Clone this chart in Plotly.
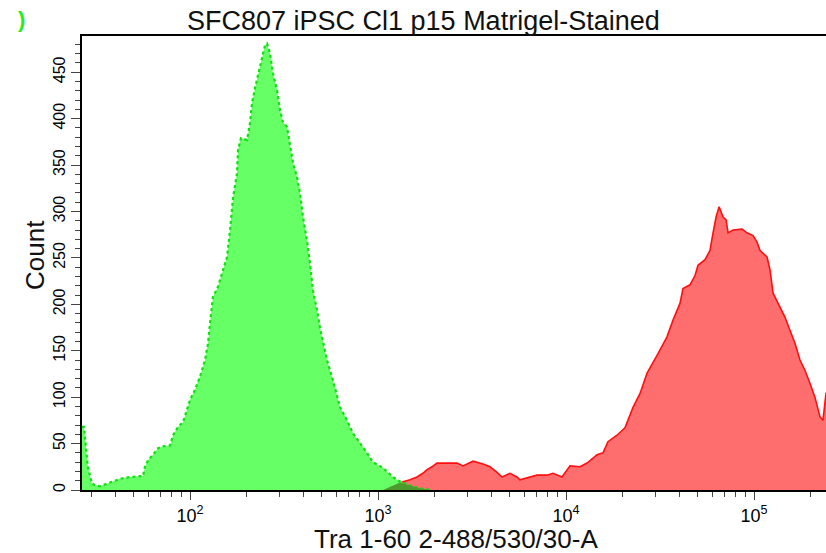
import plotly.graph_objects as go

# ---- data ----
green_x = [26.6, 27.3, 28.6, 30.1, 31.3, 33.2, 37.5, 42.4, 48.0, 54.2, 56.2, 57.6, 59.8, 63.6,
           67.6, 71.8, 78.3, 81.2, 86.4, 91.8, 95.2, 100, 106.3, 113.0, 120.2, 124.7, 127.8,
           132.5, 140.9, 157.4, 163.3, 169.4, 177.8, 180.0, 186.7, 201, 208.5, 213.8, 221.8,
           235.7, 250.6, 256.8, 266.6, 276.3, 290.2, 301.2, 312.5, 328.2, 340.6, 353.4, 370.9,
           384.8, 399.2, 418.9, 434.8, 451, 473.4, 491.3, 535.5, 576.6, 628.7, 684.7, 736.6,
           802.2, 873.6, 939.8, 1062, 1201, 1310, 1479, 1671, 1936]
green_y = [68, 68, 25, 7, 5, 4, 8, 12, 14, 15, 15, 25, 32, 38,
           45, 47, 48, 59, 68, 73, 84, 97, 108, 122, 140, 158, 180,
           208, 219, 251, 280, 315, 341, 366, 379, 377, 395, 417, 433,
           455, 479, 481, 470, 449, 431, 409, 396, 391, 373, 352, 337,
           320, 294, 269, 244, 215, 194, 175, 140, 118, 89, 75, 61,
           51, 40, 30, 24, 14, 9, 5, 2, 0]

red_x = [1025, 1117, 1231, 1358, 1479, 1611, 1734, 1823, 1936, 2059, 2328, 2632, 2833, 3202,
         3619, 3944, 4298, 4570, 5036, 5488, 5689, 6202, 7010, 7924, 8531, 9524, 10500,
         11870, 12940, 14630, 15740, 16720, 18670, 20590, 22720, 24770, 26990, 30860, 34450,
         37080, 40380, 41910, 45680, 48560, 50360, 54880, 58340, 60550, 62840, 65210, 68450,
         71040, 72800, 77340, 86320, 91810, 98840, 103800, 107700, 117300, 121700, 126300,
         137500, 146300, 155300, 165200, 175600, 186600, 198400, 210900, 224300, 232700,
         241500, 253500]
red_y = [0, 2, 5, 9, 11, 14, 18, 22, 25, 29, 29, 29, 26, 31,
         28, 25, 19, 14, 18, 14, 11, 13, 16, 16, 18, 14, 26,
         25, 29, 38, 40, 52, 59, 67, 89, 104, 126, 147, 165,
         183, 201, 217, 221, 231, 242, 248, 258, 277, 294, 305, 294,
         291, 277, 280, 281, 277, 274, 267, 258, 251, 237, 212,
         197, 186, 172, 158, 140, 129, 115, 100, 79, 75,
         104, 110]

overlap_x = [1062, 1117, 1231, 1310, 1479, 1671, 1936]
overlap_y = [0, 2, 5, 8, 5, 2, 0]

y_ticks = [0, 50, 100, 150, 200, 250, 300, 350, 400, 450]
x_ticks = [100, 1000, 10000, 100000]
x_ticklabels = ["10<sup>2</sup>", "10<sup>3</sup>", "10<sup>4</sup>", "10<sup>5</sup>"]

title_text = "SFC807 iPSC Cl1 p15 Matrigel-Stained"
x_title = "Tra 1-60 2-488/530/30-A"
y_title = "Count"

minor_x = [m * 10 ** e for e in range(1, 6) for m in range(2, 10)]
minor_y = list(range(0, 490, 10))

FONT = "Liberation Sans, Arial, sans-serif"

fig = go.Figure()
fig.add_trace(go.Scatter(x=red_x, y=red_y, mode="lines", fill="tozeroy",
                         line=dict(color="#ff1010", width=1.6),
                         fillcolor="#ff6e6e", hoverinfo="skip"))
fig.add_trace(go.Scatter(x=green_x, y=green_y, mode="lines", fill="tozeroy",
                         line=dict(color="#10e010", width=2.2, dash="dot"),
                         fillcolor="#66ff66", hoverinfo="skip"))
fig.add_trace(go.Scatter(x=overlap_x, y=overlap_y, mode="lines", fill="tozeroy",
                         line=dict(color="#4f9a2c", width=0),
                         fillcolor="#4f9a2c", hoverinfo="skip"))

fig.update_layout(
    width=826, height=553,
    margin=dict(l=82, r=0, t=36, b=63),
    paper_bgcolor="white", plot_bgcolor="white",
    showlegend=False,
    font=dict(family=FONT, color="black"),
    xaxis=dict(type="log", range=[1.4255, 5.383],
               showgrid=False, zeroline=False,
               showline=True, linecolor="black", linewidth=2, mirror=True,
               ticks="outside", ticklen=8, tickwidth=1, tickcolor="#444",
               tickmode="array", tickvals=x_ticks, ticktext=x_ticklabels,
               tickfont=dict(size=18, family=FONT),
               minor=dict(tickmode="array", tickvals=minor_x, ticks="outside",
                          ticklen=5, tickwidth=1, tickcolor="#444", showgrid=False)),
    yaxis=dict(range=[0, 489],
               showgrid=False, zeroline=False,
               showline=True, linecolor="black", linewidth=2, mirror=False,
               ticks="outside", ticklen=9, tickwidth=1, tickcolor="#444",
               tickmode="array", tickvals=y_ticks,
               tickangle=-90, tickfont=dict(size=16, family=FONT),
               minor=dict(tickmode="array", tickvals=minor_y, ticks="outside",
                          ticklen=5, tickwidth=1, tickcolor="#444", showgrid=False)),
)

fig.add_annotation(text=title_text, xref="paper", yref="paper",
                   x=0.459, y=1.033, xanchor="center", yanchor="middle",
                   showarrow=False, font=dict(size=27, family=FONT, color="#111"))
fig.add_annotation(text=x_title, xref="paper", yref="paper",
                   x=0.503, y=-0.108, xanchor="center", yanchor="middle",
                   showarrow=False, font=dict(size=26, family=FONT, color="#111"))
fig.add_annotation(text=y_title, xref="paper", yref="paper",
                   x=-0.0632, y=0.5176, xanchor="center", yanchor="middle",
                   textangle=-90, showarrow=False,
                   font=dict(size=26, family=FONT, color="#111"))
fig.add_annotation(text="<b>)</b>", xref="paper", yref="paper",
                   x=-0.0813, y=1.0374, xanchor="center", yanchor="middle",
                   showarrow=False, font=dict(size=22, family=FONT, color="#22ee22"))

fig.write_html("out.html", config={"displayModeBar": False},
               post_script="document.body.style.margin='0';document.body.style.overflow='hidden';")
